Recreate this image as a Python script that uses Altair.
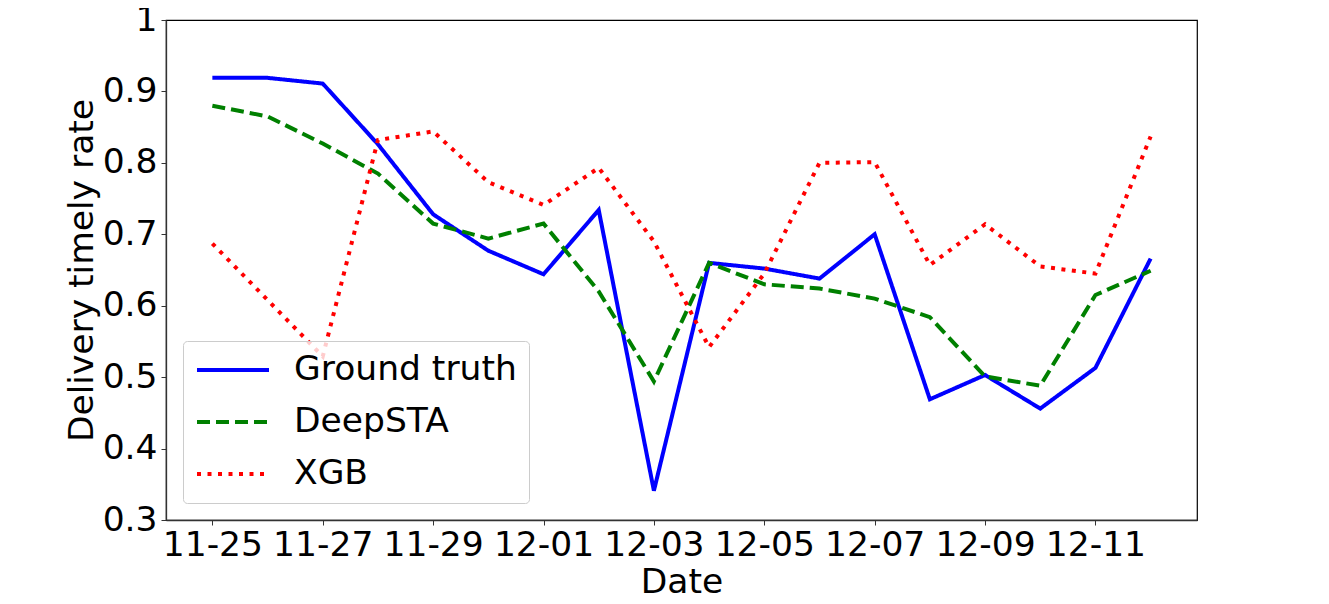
import altair as alt
import pandas as pd

dates = ["11-25", "11-26", "11-27", "11-28", "11-29", "11-30", "12-01", "12-02", "12-03",
         "12-04", "12-05", "12-06", "12-07", "12-08", "12-09", "12-10", "12-11", "12-12"]
ground_truth = [0.919, 0.919, 0.911, 0.826, 0.728, 0.677, 0.644, 0.734, 0.341,
                0.660, 0.652, 0.638, 0.700, 0.469, 0.503, 0.456, 0.513, 0.666]
deepsta = [0.880, 0.865, 0.827, 0.785, 0.715, 0.694, 0.715, 0.620, 0.494,
           0.660, 0.630, 0.624, 0.610, 0.584, 0.501, 0.488, 0.615, 0.649]
xgb = [0.687, 0.608, 0.529, 0.832, 0.844, 0.773, 0.741, 0.793, 0.690,
       0.542, 0.645, 0.800, 0.801, 0.657, 0.714, 0.655, 0.645, 0.837]
series = ["Ground truth", "DeepSTA", "XGB"]
colors = ["#0000ff", "#008000", "#ff0000"]
dashes = [[1, 0], [13, 6], [4, 6.5]]
x_ticks = dates[::2]
y_ticks = [0.3, 0.4, 0.5, 0.6, 0.7, 0.8, 0.9, 1.0]

rows = []
for name, vals in zip(series, [ground_truth, deepsta, xgb]):
    for d, v in zip(dates, vals):
        rows.append({"Date": d, "value": v, "series": name})
df = pd.DataFrame(rows)

FONT = "DejaVu Sans"
FS = 34.5

chart = alt.Chart(df).mark_line(strokeWidth=4, strokeCap="butt").encode(
    x=alt.X("Date:O", sort=dates,
            scale=alt.Scale(type="point", domain=dates, padding=0.84),
            axis=alt.Axis(title="Date", values=x_ticks, labelAngle=0,
                          labelFontSize=FS, titleFontSize=FS, labelPadding=3,
                          titlePadding=4, tickSize=5, tickColor="#333",
                          domainColor="#333", domainWidth=1.3,
                          labelColor="black", titleColor="black",
                          titleFontWeight="normal", labelFont=FONT, titleFont=FONT)),
    y=alt.Y("value:Q",
            scale=alt.Scale(domain=[0.3, 1.0], nice=False, zero=False),
            axis=alt.Axis(title="Delivery timely rate", values=y_ticks,
                          labelExpr="datum.value == 1 ? '1' : format(datum.value, '.1f')",
                          labelFontSize=FS, titleFontSize=FS, labelPadding=4,
                          titlePadding=3, tickSize=5, tickColor="#333", grid=False,
                          domainColor="#333", domainWidth=1.3,
                          labelColor="black", titleColor="black",
                          titleFontWeight="normal", labelFont=FONT, titleFont=FONT)),
    color=alt.Color("series:N", sort=series,
                    scale=alt.Scale(domain=series, range=colors),
                    legend=alt.Legend(title=None)),
    strokeDash=alt.StrokeDash("series:N", sort=series,
                              scale=alt.Scale(domain=series, range=dashes),
                              legend=alt.Legend(title=None)),
).properties(
    width=1031, height=500,
    autosize=alt.AutoSizeParams(type="none"),
    padding={"left": 158, "top": 12, "right": 40, "bottom": 80},
).configure_view(
    stroke="black", strokeWidth=1.2
).configure_legend(
    orient="none", legendX=17, legendY=321,
    symbolType="stroke", symbolSize=5184, symbolStrokeWidth=4,
    clipHeight=34, rowPadding=17, labelOffset=23,
    labelFontSize=FS, labelFont=FONT, labelColor="black",
    padding=12, fillColor="rgba(255,255,255,0.8)", strokeColor="#cccccc",
    cornerRadius=4, labelLimit=400
)

chart.save("out.html", embed_options={"renderer": "svg", "actions": False})
